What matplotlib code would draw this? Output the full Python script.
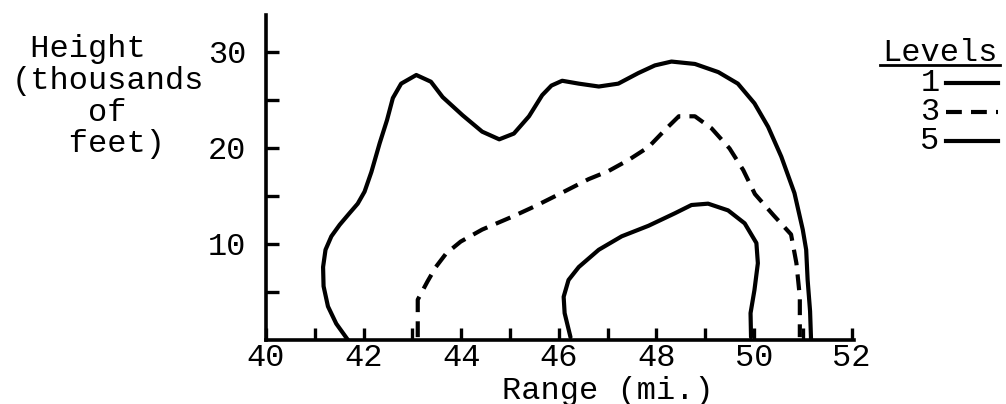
import matplotlib
matplotlib.use("Agg")
import matplotlib.pyplot as plt
from matplotlib.lines import Line2D

plt.rcParams['font.family'] = ['Liberation Mono', 'DejaVu Sans Mono']

# contours: range (mi.) vs height (thousands of feet)
level1_x = [41.68, 41.44, 41.27, 41.18, 41.17, 41.22, 41.34, 41.51, 41.71, 41.88,
            42.02, 42.16, 42.33, 42.48, 42.6, 42.77, 43.08, 43.38, 43.62, 44.03,
            44.43, 44.78, 45.08, 45.39, 45.66, 45.85, 46.07, 46.41, 46.82, 47.22,
            47.63, 47.97, 48.31, 48.79, 49.27, 49.67, 50.01, 50.29, 50.56, 50.83,
            51.0, 51.07, 51.1, 51.15, 51.17]
level1_y = [0.0, 1.7, 3.5, 5.6, 7.6, 9.4, 10.8, 12.0, 13.2, 14.2,
            15.45, 17.5, 20.5, 22.9, 25.2, 26.7, 27.6, 26.9, 25.3, 23.4,
            21.7, 20.9, 21.5, 23.3, 25.5, 26.5, 27.0, 26.7, 26.4, 26.7,
            27.8, 28.6, 29.0, 28.75, 27.9, 26.7, 24.65, 22.2, 19.1, 15.3,
            11.5, 9.4, 6.25, 3.0, 0.0]

level3_x = [43.11, 43.11, 43.11, 43.31, 43.48, 43.69, 43.99, 44.43, 45.05, 45.52,
            46.07, 46.61, 47.02, 47.43, 47.84, 48.2, 48.46, 48.79, 49.13, 49.5,
            49.78, 50.02, 50.4, 50.76, 50.87, 50.94, 50.94]
level3_y = [0.3, 2.5, 4.2, 6.1, 7.6, 9.0, 10.25, 11.5, 12.85, 13.95,
            15.35, 16.75, 17.6, 18.75, 20.1, 22.0, 23.3, 23.3, 22.05, 19.95,
            17.7, 15.2, 13.0, 11.0, 8.0, 4.5, 0.3]

level5_x = [46.24, 46.12, 46.1, 46.2, 46.41, 46.82, 47.29, 47.84, 48.38, 48.72,
            49.06, 49.47, 49.81, 50.05, 50.08, 50.01, 49.93, 49.94]
level5_y = [0.3, 2.8, 4.5, 6.25, 7.6, 9.4, 10.8, 11.9, 13.2, 14.06,
            14.2, 13.5, 12.15, 10.1, 8.0, 5.2, 2.8, 0.3]

x_major = [40, 42, 44, 46, 48, 50, 52]
x_minor = [41, 43, 45, 47, 49, 51]
y_ticks = [5, 10, 15, 20, 25, 30]
y_labels = ['', '10', '', '20', '', '30']

levels = ['1', '3', '5']
styles = ['-', (0, (3.8, 2.2)), '-']

FS = 23
LW = 3.0

fig = plt.figure(figsize=(10.06, 4.04), dpi=100)
ax = fig.add_axes([0.2644, 0.1584, 0.5845, 0.8045])

for xs, ys, ls in zip([level1_x, level3_x, level5_x], [level1_y, level3_y, level5_y], styles):
    ax.plot(xs, ys, color='black', lw=LW, linestyle=ls,
            solid_capstyle='round', solid_joinstyle='round', dash_joinstyle='round')

ax.set_xlim(40, 52.05)
ax.set_ylim(0, 33.85)

for side in ['top', 'right']:
    ax.spines[side].set_visible(False)
for side in ['left', 'bottom']:
    ax.spines[side].set_linewidth(2.6)

ax.set_xticks(x_major)
ax.set_xticklabels([str(v) for v in x_major])
ax.set_xticks(x_minor, minor=True)
ax.set_yticks(y_ticks)
ax.set_yticklabels(y_labels)
ax.tick_params(axis='both', which='both', direction='in', length=9, width=2.4)
ax.tick_params(axis='x', which='major', labelsize=FS, pad=2)
ax.tick_params(axis='y', labelsize=FS, pad=14)

ax.set_xlabel('Range (mi.)', fontsize=FS)
ax.xaxis.set_label_coords(0.582, -0.11)

ax.set_ylabel(' Height\n(thousands\n    of\n   feet)', fontsize=FS, rotation=0,
              ha='left', va='center', multialignment='left', linespacing=1.07)
ax.yaxis.set_label_coords(-0.433, 0.748)

# legend drawn by hand, labels left of the lines as in the scan
fig.text(940 / 1006, 1 - 53 / 404, 'Levels', fontsize=FS, ha='center', va='center')
fig.add_artist(Line2D([880 / 1006, 1000 / 1006], [1 - 65 / 404, 1 - 65 / 404],
                      color='black', lw=2.0))
for i, (name, ls) in enumerate(zip(levels, styles)):
    yy = 1 - (83 + 29 * i) / 404
    fig.text(930 / 1006, yy, name, fontsize=FS, ha='center', va='center')
    fig.add_artist(Line2D([946 / 1006, 998 / 1006], [yy, yy], color='black',
                          lw=LW, linestyle=ls))

fig.savefig('out.png', dpi=100)
